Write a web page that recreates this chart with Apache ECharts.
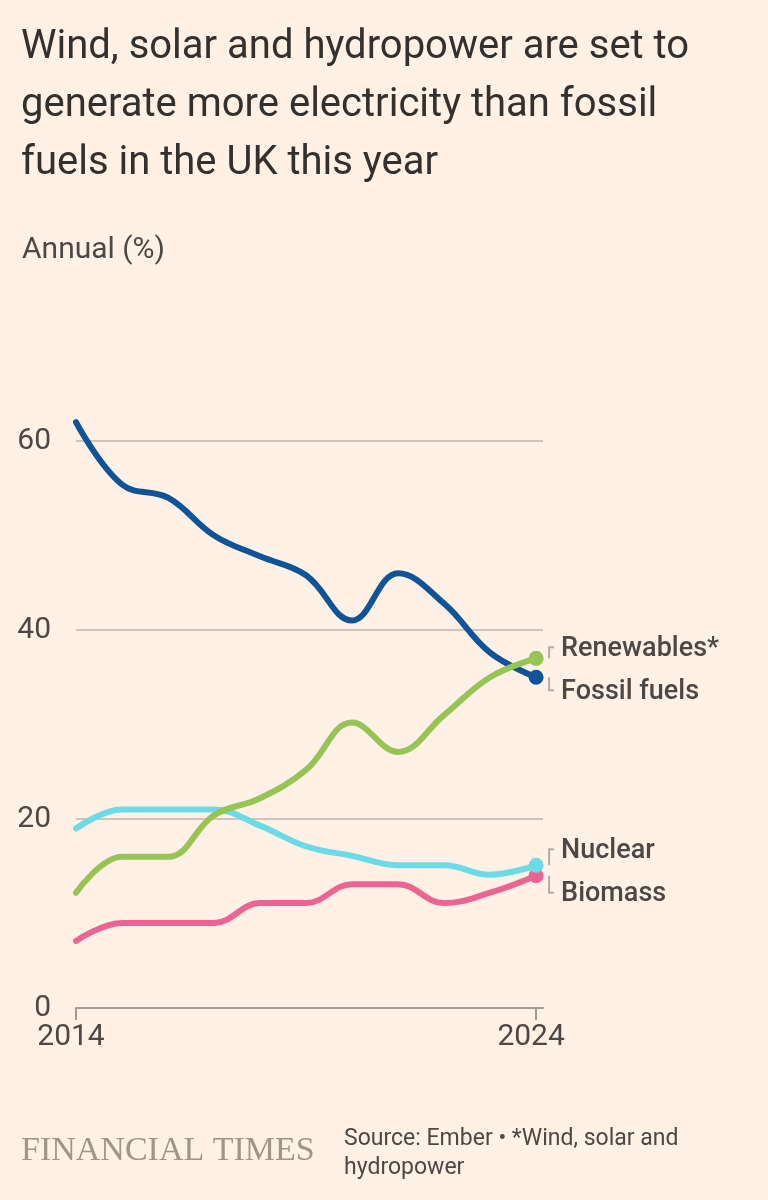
<!DOCTYPE html>
<html lang="en">
<head>
<meta charset="utf-8">
<title>UK electricity mix</title>
<script src="https://cdn.jsdelivr.net/npm/echarts@6/dist/echarts.min.js"></script>
<style>
  html, body { margin: 0; padding: 0; background: #fff1e5; }
  #chart { width: 768px; height: 1200px; }
</style>
</head>
<body>
<div id="chart"></div>
<script>
// data, share of UK generation (%)
var years = [2014, 2015, 2016, 2017, 2018, 2019, 2020, 2021, 2022, 2023, 2024];
var fossil = [62, 55.4, 54, 50, 47.8, 45.8, 41, 46, 42.8, 37.6, 35];
var renewables = [12.2, 16, 16, 20.4, 22.2, 25.2, 30.2, 27.1, 31, 35, 37];
var nuclear = [19, 21, 21, 21, 19.3, 17.1, 16.1, 15.1, 15.1, 14.1, 15.1];
var biomass = [7.1, 9, 9, 9, 11.1, 11.1, 13.1, 13.1, 11.1, 12.2, 14];
var yTicks = [0, 20, 40, 60];
var xTicks = [2014, 2024];

var txt = '#33302e';
var font = 'Roboto, "Noto Sans", sans-serif';

// name, values, colour, label vertical offset from the end point
var lines = [
  { name: 'Biomass', values: biomass, color: '#ec6592', dy: 19 },
  { name: 'Nuclear', values: nuclear, color: '#6cdbe8', dy: -14 },
  { name: 'Fossil fuels', values: fossil, color: '#0f5499', dy: 15 },
  { name: 'Renewables*', values: renewables, color: '#96c455', dy: -9 }
];

function pairs(vals) {
  return years.map(function (y, i) {
    var item = { value: [y, vals[i]] };
    if (i === years.length - 1) {
      item.symbol = 'circle';
      item.symbolSize = 15;
    }
    return item;
  });
}

var chart = echarts.init(document.getElementById('chart'));

var option = {
  backgroundColor: '#fff1e5',
  animation: false,
  title: [
    {
      text: 'Wind, solar and hydropower are set to\ngenerate more electricity than fossil\nfuels in the UK this year',
      left: 16, top: 14,
      textStyle: { fontFamily: font, fontSize: 40, fontWeight: 'normal', color: txt, lineHeight: 58 }
    },
    {
      text: 'Annual (%)',
      left: 17, top: 230,
      textStyle: { fontFamily: font, fontSize: 30, fontWeight: 'normal', color: '#4d4845' }
    },
    {
      text: 'FINANCIAL TIMES',
      left: 16, top: 1129,
      textStyle: { fontFamily: '"Liberation Serif", serif', fontSize: 34, fontWeight: 'normal', color: '#a09589' }
    },
    {
      text: 'Source: Ember \u2022 *Wind, solar and\nhydropower',
      left: 339, top: 1120,
      textStyle: { fontFamily: font, fontSize: 23, fontWeight: 'normal', color: '#4d4845', lineHeight: 29 }
    }
  ],
  grid: { left: 76, right: 225, top: 252, bottom: 192, containLabel: false },
  xAxis: {
    type: 'value',
    min: 2014,
    max: 2024.15,
    axisLine: { show: true, lineStyle: { color: '#a59a91', width: 2 } },
    axisTick: { show: true, length: 12, customValues: xTicks, lineStyle: { color: '#a59a91', width: 2 } },
    axisLabel: {
      customValues: xTicks, margin: 14, padding: [0, 10, 0, 0],
      fontFamily: font, fontSize: 30, color: '#4d4845',
      formatter: function (v) { return String(v); }
    },
    splitLine: { show: false }
  },
  yAxis: {
    type: 'value',
    min: 0,
    max: 80,
    interval: 20,
    axisLine: { show: false },
    axisTick: { show: false },
    axisLabel: {
      showMaxLabel: false, margin: 25,
      fontFamily: font, fontSize: 30, color: '#4d4845',
      formatter: function (v) { return yTicks.indexOf(v) >= 0 ? String(v) : ''; }
    },
    splitLine: { show: true, showMaxLine: false, lineStyle: { color: '#cfc5bd', width: 2 } }
  },
  series: lines.map(function (l) {
    return {
      name: l.name,
      type: 'line',
      data: pairs(l.values),
      smooth: 0.4,
      symbol: 'none',
      showSymbol: true,
      lineStyle: { color: l.color, width: 6, cap: 'round' },
      itemStyle: { color: l.color },
      endLabel: {
        show: true,
        formatter: l.name,
        distance: 25,
        offset: [0, l.dy],
        fontFamily: font,
        fontSize: 27,
        fontWeight: 500,
        color: '#4d4845'
      },
      emphasis: { disabled: true }
    };
  })
};

chart.setOption(option);

// little grey brackets joining each end point to its label
var brackets = lines.map(function (l) {
  var last = l.values[l.values.length - 1];
  var p = chart.convertToPixel({ gridIndex: 0 }, [years[years.length - 1], last]);
  var bx = p[0] + 13;
  var ly = p[1] + l.dy - 2;
  return {
    type: 'polyline',
    shape: { points: [[bx, p[1]], [bx, ly], [bx + 5, ly]] },
    style: { stroke: '#b5aca4', lineWidth: 2, fill: null }
  };
});
chart.setOption({ graphic: brackets });
</script>
</body>
</html>
